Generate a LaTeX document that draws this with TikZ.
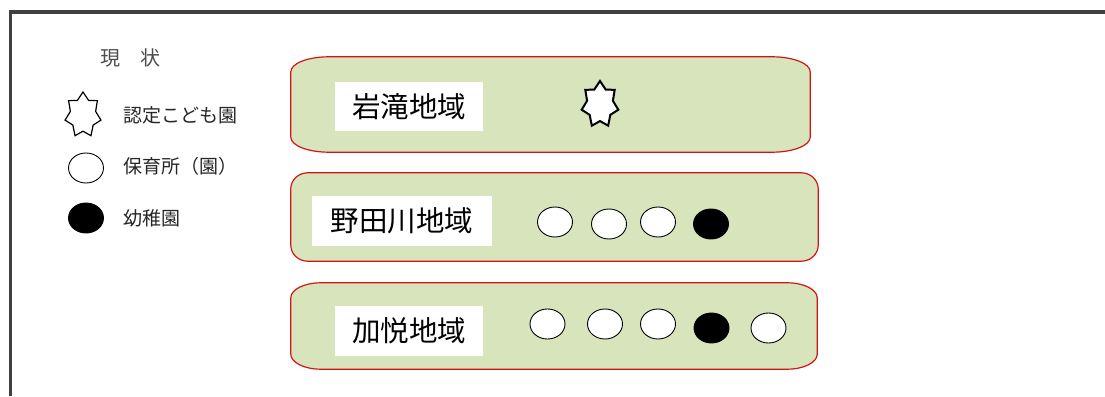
\documentclass[tikz,border=0pt]{standalone}
\usepackage{fontspec}
\newfontfamily\jp{Noto Sans CJK JP}
\usetikzlibrary{shapes.geometric}
\definecolor{regfill}{RGB}{216,228,188}
\definecolor{regline}{RGB}{210,20,20}
\definecolor{framegray}{RGB}{64,64,64}
\tikzset{
  regionbg/.style={draw=none, inner sep=0pt},
  regionline/.style={draw=regline, fill=regfill, line width=1.2pt},
  labelbox/.style={fill=white, inner sep=0pt, font=\jp\fontsize{28.5}{30}\selectfont},
  legendtext/.style={anchor=west, inner sep=0pt, font=\jp\fontsize{19}{21}\selectfont, text=black!85},
  hoiku/.style={ellipse, draw=black, fill=white, line width=0.9pt, minimum width=35pt, minimum height=30pt, inner sep=0pt},
  yochi/.style={ellipse, draw=black, fill=black, line width=0.9pt, minimum width=35pt, minimum height=30pt, inner sep=0pt},
  kodomo/.style={star, star points=7, star point ratio=1.42, draw=black, fill=white, inner sep=0pt, minimum size=47pt, xscale=0.8},
}
\newcommand\regionshape[3]{%
  \draw[regionline] ([yshift=#3 pt]#1.south west) -- ([yshift=-#3 pt]#1.north west)
    arc[start angle=180,end angle=90,x radius=#2,y radius=#3]
    -- ([xshift=-#2 pt]#1.north east)
    arc[start angle=90,end angle=0,x radius=#2,y radius=#3]
    -- ([yshift=#3 pt]#1.south east)
    arc[start angle=0,end angle=-90,x radius=#2,y radius=#3]
    -- ([xshift=#2 pt]#1.south west)
    arc[start angle=270,end angle=180,x radius=#2,y radius=#3] -- cycle;}
\begin{document}
\begin{tikzpicture}[x=1pt,y=1pt]
\useasboundingbox (0,0) rectangle (1105,396);
% frame
\draw[framegray, line width=3.5pt] (10.5,0) -- (10.5,384) -- (1105,384);
% legend
\node[anchor=west, inner sep=0pt, font=\jp\fontsize{20}{22}\selectfont, text=black!70] (title) at (100,338) {現　状};
\node[kodomo, line width=1.2pt, minimum size=46pt] (lgstar) at (83,281) {};
\node[legendtext] (lgstartext) at (123,281) {認定こども園};
\node[hoiku] (lgcirc) at (86,228) {};
\node[legendtext] (lgcirctext) at (123,230) {保育所（園）};
\node[yochi] (lgblack) at (86,178) {};
\node[legendtext] (lgblacktext) at (123,178) {幼稚園};
% region boxes
\node[regionbg, minimum width=519pt, minimum height=95pt] (r1) at (550.5,291.5) {};
\regionshape{r1}{38}{15}
\node[regionbg, minimum width=527pt, minimum height=88pt] (r2) at (554.5,179) {};
\regionshape{r2}{17}{16}
\node[regionbg, minimum width=526pt, minimum height=86pt] (r3) at (554,70) {};
\regionshape{r3}{30}{15}
% labels
\node[labelbox, minimum width=148pt, minimum height=49pt] (l1) at (409,289.5) {岩滝地域};
\node[labelbox, minimum width=180pt, minimum height=50pt] (l2) at (402,175) {野田川地域};
\node[labelbox, minimum width=148pt, minimum height=50pt] (l3) at (409,65) {加悦地域};
% region 1
\node[kodomo, line width=2pt] (s1) at (600,291.5) {};
% region 2
\node[hoiku] (a1) at (555,174) {};
\node[hoiku] (a2) at (609,172) {};
\node[hoiku] (a3) at (658,174) {};
\node[yochi] (a4) at (711,172) {};
% region 3
\node[hoiku] (b1) at (547.5,72) {};
\node[hoiku] (b2) at (605,72) {};
\node[hoiku] (b3) at (658,72) {};
\node[yochi] (b4) at (711.5,68) {};
\node[hoiku] (b5) at (768.5,68) {};
\end{tikzpicture}
\end{document}
